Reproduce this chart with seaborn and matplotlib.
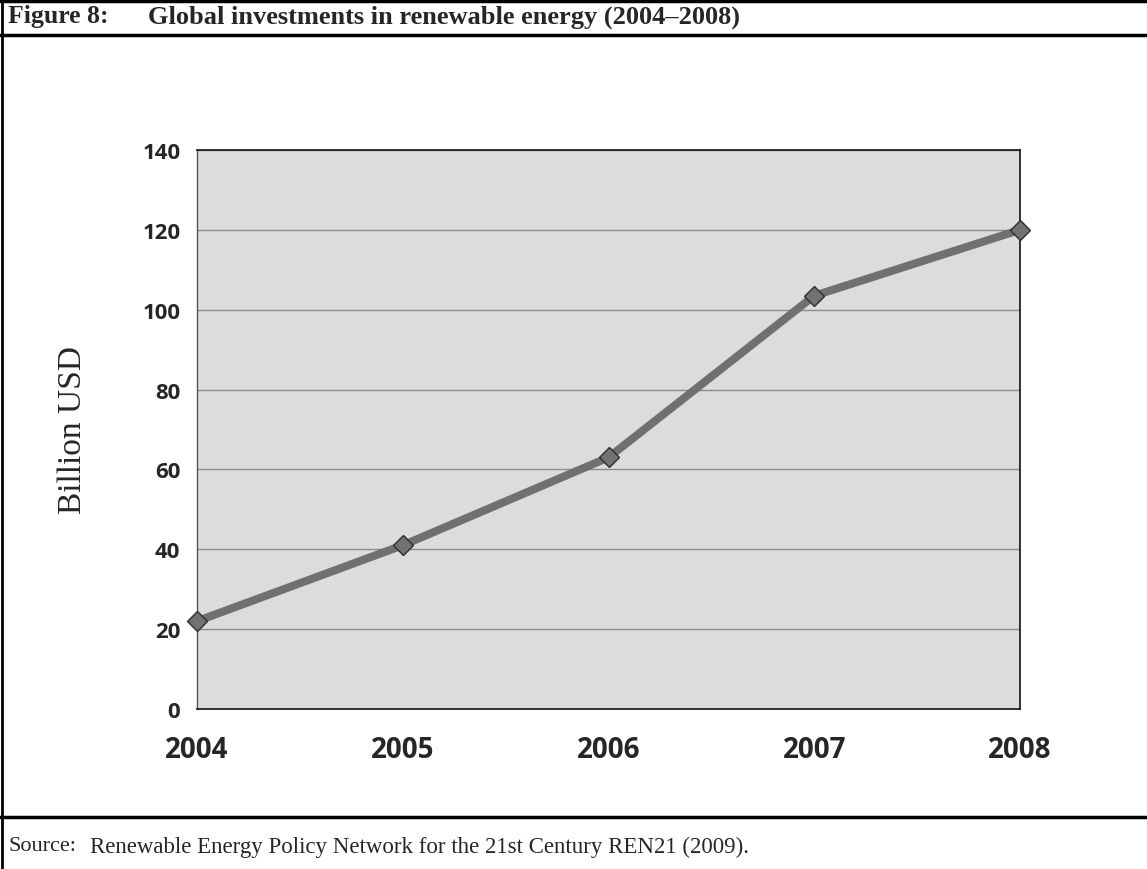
import matplotlib.pyplot as plt
import pandas as pd
import seaborn as sns
from matplotlib.lines import Line2D

years = [2004, 2005, 2006, 2007, 2008]
investment = [22, 41, 63, 103.5, 120]
y_ticks = [0, 20, 40, 60, 80, 100, 120, 140]

df = pd.DataFrame({"year": years, "billion_usd": investment})

sns.set_style("white")
plt.rcParams["font.family"] = ["Open Sans", "DejaVu Sans"]

W, H = 1147, 870
fig = plt.figure(figsize=(W / 100, H / 100), dpi=100)
ax = fig.add_axes([197 / W, 1 - 710 / H, (1020 - 197) / W, (710 - 151) / H])

ax.set_facecolor("#dcdcdc")
ax.grid(axis="y", color="#8c8c8c", linewidth=1.0)
ax.set_axisbelow(True)

sns.lineplot(
    data=df, x="year", y="billion_usd", ax=ax,
    color="#707070", linewidth=5.8, marker="D", markersize=10,
    markerfacecolor="#727272", markeredgecolor="#2e2e2e", markeredgewidth=1.0,
    clip_on=False, zorder=5,
)

ax.set_xlim(2004, 2008)
ax.set_ylim(0, 140)
ax.set_xticks(years)
ax.set_xticklabels([str(y) for y in years], fontsize=20, fontweight="bold")
ax.set_yticks(y_ticks)
ax.set_yticklabels([str(v) for v in y_ticks], fontsize=16, fontweight="bold")
ax.tick_params(axis="x", direction="out", length=8, width=1, pad=11, color="#222222")
ax.tick_params(axis="y", direction="out", length=8, width=1, pad=4, color="#222222")
ax.set_xlabel("")
ax.set_ylabel("Billion USD", fontsize=24, family=["Liberation Serif", "DejaVu Serif"])
ax.yaxis.set_label_coords((88 - 197) / (1020 - 197), 0.5)

for side in ["top", "right", "bottom"]:
    ax.spines[side].set_color("#111111")
    ax.spines[side].set_linewidth(1.2)
ax.spines["left"].set_color("#555555")
ax.spines["left"].set_linewidth(1.0)

# frame around the figure block
def hline(ypix, lw=2.5):
    fig.add_artist(Line2D([0, 1], [1 - ypix / H, 1 - ypix / H], color="black", linewidth=lw))

hline(1.5)
hline(36)
hline(818)
fig.add_artist(Line2D([2 / W, 2 / W], [0, 1], color="black", linewidth=2.0))

serif = ["Liberation Serif", "DejaVu Serif"]
fig.text(8 / W, 1 - 17 / H, "Figure 8:", fontsize=18.5, fontweight="bold", family=serif, va="center")
fig.text(148 / W, 1 - 17 / H, "Global investments in renewable energy (2004\u20132008)",
         fontsize=19, fontweight="bold", family=serif, va="center")
fig.text(8 / W, 1 - 847 / H, "Source:", fontsize=16, family=serif, va="center")
fig.text(90 / W, 1 - 847 / H, "Renewable Energy Policy Network for the 21st Century REN21 (2009).",
         fontsize=16.5, family=serif, va="center")

fig.savefig("out.png", dpi=100, facecolor="white")
